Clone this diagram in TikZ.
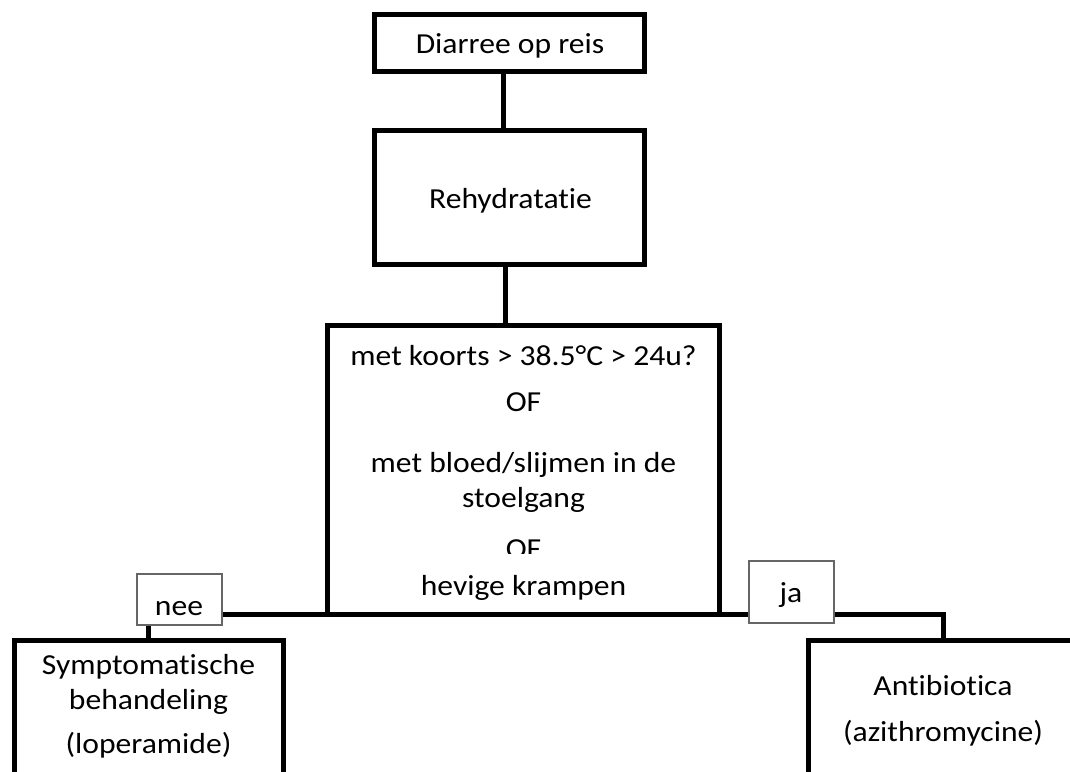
\documentclass[tikz,border=0pt]{standalone}
\usepackage{fontspec}
\setmainfont{Carlito}[FakeStretch=1.09,Ligatures=NoCommon]
\usetikzlibrary{positioning}

\begin{document}
\begin{tikzpicture}[x=1pt,y=-1pt,
        kader/.style={draw,line width=5pt,inner sep=0pt,outer sep=0pt},
        lijn/.style={line width=5pt},
        keuze/.style={draw=black!60,line width=1.2pt,fill=white,inner sep=0pt,
                      minimum width=85pt},
        tekst/.style={anchor=base,inner sep=0pt,align=center,
                      font=\fontsize{29}{35}\selectfont}]

  \useasboundingbox (0,0) rectangle (1070,771);
  \clip (0,0) rectangle (1070,771);

  \node[kader,minimum width=270.5pt,minimum height=56.5pt] (reis) at (509.25,42.75) {};
  \node[kader,minimum width=270.5pt,minimum height=134pt] (rehy) at (509.25,197.5) {};
  \node[kader,minimum width=391.5pt,minimum height=288.5pt] (crit) at (523.25,469.75) {};
  \node[kader,minimum width=269pt,minimum height=200pt] (sympt) at (148.5,740) {};
  \node[kader,minimum width=270pt,minimum height=200pt] (anti) at (943.5,740) {};

  \draw[lijn] ([xshift=-5.75pt]reis.south) -- ([xshift=-5.75pt]rehy.north);
  \draw[lijn] ([xshift=-3.75pt]rehy.south) -- ([xshift=-3.75pt]rehy.south |- crit.north);
  \draw[lijn] (crit.south west) -| (sympt.north);
  \draw[lijn] (crit.south east) -| (anti.north);

  \node[keuze,minimum height=51pt] (nee) at (179.5,599.5) {};
  \node[keuze,minimum height=62pt] (ja) at (791.5,592) {};

  \node[tekst] (t-reis) at (510,53.3) {Diarree op reis};
  \node[tekst] (t-rehy) at (510.5,208.5) {Rehydratatie};
  \node[tekst] (t-koorts) at (523.5,365) {met koorts > 38.5°C > 24u?};
  \node[tekst] (t-of1) at (523.5,411.7) {OF};
  \node[tekst] (t-bloed) at (523.5,507.5) {met bloed/slijmen in de\\stoelgang};
  \begin{scope}
    \clip (330,520) rectangle (716,553);
    \node[tekst] (t-of2) at (523.5,558) {OF};
  \end{scope}
  \node[tekst] (t-kramp) at (523.5,595) {hevige krampen};
  \node[tekst] (t-sympt) at (148.5,709) {Symptomatische\\behandeling};
  \node[tekst] (t-lop) at (148.5,753) {(loperamide)};
  \node[tekst] (t-anti) at (943,695) {Antibiotica};
  \node[tekst] (t-azi) at (943,741.5) {(azithromycine)};
  \node[tekst] (t-nee) at (179,615) {nee};
  \node[tekst] (t-ja) at (791,602.7) {ja};

\end{tikzpicture}
\end{document}
